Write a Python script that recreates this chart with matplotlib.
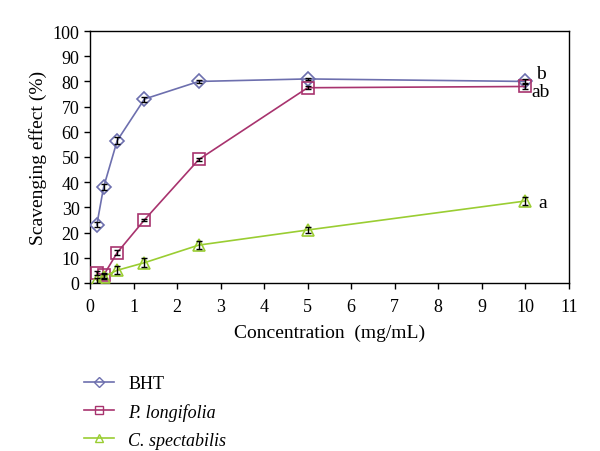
import matplotlib
matplotlib.use("Agg")
import matplotlib.pyplot as plt
from matplotlib.lines import Line2D

plt.rcParams['font.family'] = ['Liberation Serif', 'DejaVu Serif']

conc = [0.156, 0.3125, 0.625, 1.25, 2.5, 5, 10]
bht = [23, 38, 56.5, 73, 80, 81, 80]
bht_err = [1.0, 1.2, 1.5, 1.0, 0.5, 0.5, 0.8]
plong = [4, 3, 12, 25, 49, 77.5, 78]
plong_err = [0.8, 1.0, 1.0, 0.5, 0.5, 0.6, 1.0]
cspec = [1, 2.5, 5, 8, 15, 21, 32.5]
cspec_err = [1.0, 1.0, 1.5, 1.8, 1.5, 1.0, 1.5]
letters = ["b", "ab", "a"]

c_bht = "#6d6fae"
c_pl = "#a8336e"
c_cs = "#9acd32"

fig = plt.figure(figsize=(6, 4.52), dpi=100)
ax = fig.add_axes([0.15, 0.372, 0.798, 0.557])

for y, e, c, m in [(bht, bht_err, c_bht, 'D'),
                   (plong, plong_err, c_pl, 's'),
                   (cspec, cspec_err, c_cs, '^')]:
    ax.plot(conc, y, color=c, lw=1.2, marker=m, ms=8 if m != 'D' else 7,
            mfc='none', mec=c, mew=1.2, zorder=3)
    ax.errorbar(conc, y, yerr=e, fmt='none', ecolor='black', elinewidth=1,
                capsize=2.5, capthick=1, zorder=4)

# significance letters next to the last points
ax.text(10.24, 83, letters[0], fontsize=14, va='center', ha='left')
ax.text(10.15, 76, letters[1], fontsize=14, va='center', ha='left')
ax.text(10.3, 32, letters[2], fontsize=14, va='center', ha='left')

ax.set_xlim(0, 11)
ax.set_ylim(0, 100)
ax.set_xticks(range(0, 12))
ax.set_yticks(range(0, 101, 10))
ax.tick_params(axis='both', labelsize=13, direction='out', length=4, width=1)
ax.tick_params(axis='x', pad=7)
ax.set_xlabel("Concentration  (mg/mL)", fontsize=14, labelpad=6)
ax.set_ylabel("Scavenging effect (%)", fontsize=14)
for s in ax.spines.values():
    s.set_linewidth(1)

handles = [Line2D([], [], color=c_bht, marker='D', ms=5, mfc='none', mec=c_bht, lw=1.2),
           Line2D([], [], color=c_pl, marker='s', ms=6, mfc='none', mec=c_pl, lw=1.2),
           Line2D([], [], color=c_cs, marker='^', ms=6, mfc='none', mec=c_cs, lw=1.2)]
labels = ["BHT", "P. longifolia", "C. spectabilis"]
leg = fig.legend(handles, labels, loc='upper left', bbox_to_anchor=(0.128, 0.184),
                 frameon=False, fontsize=13, handlelength=1.65, handletextpad=0.8,
                 labelspacing=0.6, borderaxespad=0)
for t in leg.get_texts()[1:]:
    t.set_style('italic')

fig.savefig("out.png", dpi=100)
